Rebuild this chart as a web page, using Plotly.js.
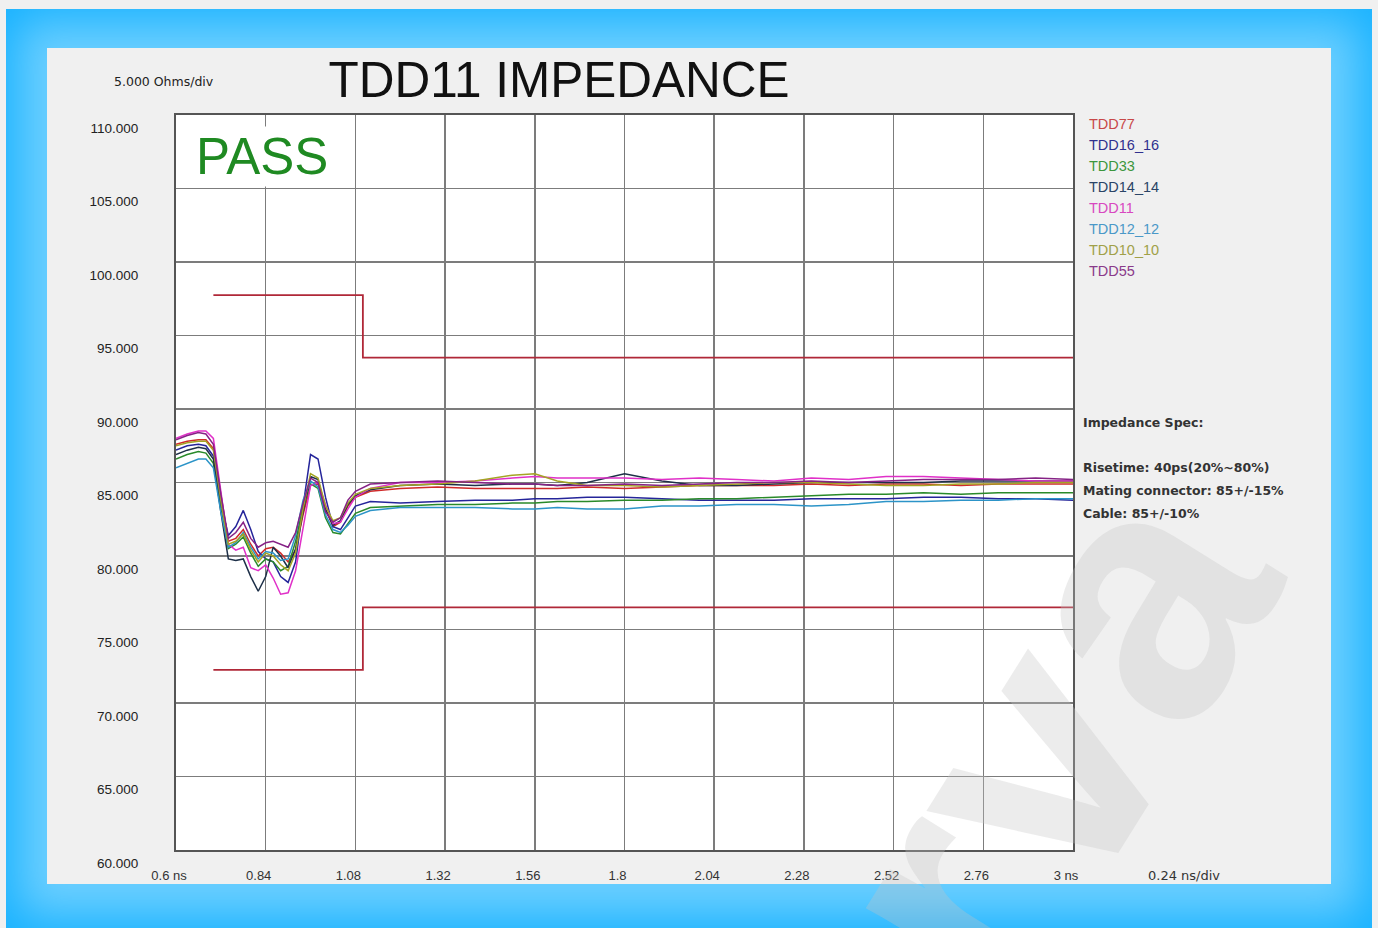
<!DOCTYPE html>
<html>
<head>
<meta charset="utf-8">
<script src="https://cdn.plot.ly/plotly-3.0.1.min.js"></script>
<style>
  html, body { margin: 0; padding: 0; background: #f0f0f0; width: 1378px; height: 928px; overflow: hidden; }
  #frame { position: absolute; left: 6px; top: 9px; width: 1366px; height: 919px;
           background: #6ccfff; box-shadow: inset 0 0 45px 12px #18b2ff; }
  #panel { position: absolute; left: 47px; top: 48px; width: 1284px; height: 836px; background: #f0f0f0; }
  #chart { position: absolute; left: 0; top: 0; width: 1378px; height: 928px; }
</style>
</head>
<body>
<div id="frame"></div>
<div id="panel"></div>
<div id="chart"></div>
<script>
// ---- Data ----
const timeNs = [0.60, 0.63, 0.66, 0.68, 0.70, 0.72, 0.74, 0.76, 0.78, 0.80, 0.82, 0.84, 0.86, 0.88, 0.90,
                0.92, 0.94, 0.96, 0.98, 1.00, 1.02, 1.04, 1.06, 1.08, 1.12, 1.20, 1.30, 1.40, 1.50, 1.56,
                1.62, 1.70, 1.80, 1.90, 2.00, 2.10, 2.20, 2.30, 2.40, 2.50, 2.60, 2.70, 2.80, 2.90, 3.00];

const seriesNames = ["TDD77", "TDD16_16", "TDD33", "TDD14_14", "TDD11", "TDD12_12", "TDD10_10", "TDD55"];

const tdd77 = [87.6, 87.8, 87.9, 87.9, 87.3, 84.0, 81.0, 81.2, 81.8, 80.8, 80.0, 80.5, 80.6, 80.2, 79.6,
               80.4, 82.8, 84.8, 84.9, 83.2, 82.0, 82.3, 83.4, 84.0, 84.4, 84.6, 84.7, 84.6, 84.6, 84.6,
               84.6, 84.7, 84.6, 84.7, 84.8, 84.8, 84.8, 84.9, 84.8, 84.9, 84.9, 84.8, 84.9, 84.9, 84.9];
const tdd16_16 = [87.2, 87.5, 87.6, 87.5, 86.8, 83.6, 81.4, 82.0, 83.1, 81.8, 80.3, 79.8, 79.6, 78.6, 78.2,
                  79.6, 83.4, 86.9, 86.6, 84.0, 82.0, 81.8, 82.6, 83.4, 83.7, 83.6, 83.7, 83.8, 83.8, 83.9,
                  83.9, 84.0, 84.0, 83.9, 83.8, 83.8, 83.8, 83.9, 83.9, 83.9, 84.0, 84.0, 83.9, 83.9, 83.8];
const tdd33 = [86.6, 86.9, 87.1, 87.0, 86.3, 83.2, 80.5, 80.8, 81.3, 80.2, 79.3, 79.8, 79.6, 79.0, 79.3,
               81.0, 83.4, 84.9, 84.6, 82.6, 81.6, 81.5, 82.2, 82.9, 83.3, 83.4, 83.5, 83.5, 83.6, 83.6,
               83.7, 83.7, 83.8, 83.8, 83.9, 83.9, 84.0, 84.1, 84.2, 84.2, 84.3, 84.2, 84.3, 84.3, 84.3];
const tdd14_14 = [86.9, 87.2, 87.4, 87.3, 86.6, 83.0, 79.8, 79.7, 79.8, 78.6, 77.6, 78.6, 80.6, 80.0, 79.2,
                  80.5, 83.0, 85.4, 85.2, 83.2, 82.1, 82.4, 83.5, 84.1, 84.5, 84.8, 84.9, 84.8, 84.9, 84.9,
                  84.8, 85.0, 85.6, 85.1, 84.8, 84.8, 84.9, 85.0, 85.0, 85.0, 85.0, 85.1, 85.1, 85.1, 85.1];
const tdd11 = [88.0, 88.3, 88.5, 88.5, 88.0, 84.5, 80.8, 80.4, 80.6, 79.2, 79.0, 79.4, 78.5, 77.4, 77.5,
               79.0, 82.0, 84.8, 85.0, 83.5, 82.2, 82.3, 83.2, 84.0, 84.6, 85.0, 85.0, 85.1, 85.3, 85.4,
               85.3, 85.3, 85.3, 85.2, 85.3, 85.2, 85.1, 85.3, 85.2, 85.4, 85.4, 85.3, 85.2, 85.1, 85.1];
const tdd12_12 = [86.0, 86.3, 86.6, 86.6, 86.0, 83.0, 80.6, 80.9, 81.6, 80.6, 79.8, 80.3, 80.2, 79.7, 79.8,
                  81.4, 83.8, 85.1, 84.7, 82.8, 81.8, 81.6, 82.1, 82.7, 83.1, 83.3, 83.3, 83.3, 83.2, 83.2,
                  83.3, 83.2, 83.2, 83.4, 83.4, 83.5, 83.5, 83.4, 83.5, 83.7, 83.7, 83.8, 83.8, 83.9, 83.9];
const tdd10_10 = [87.5, 87.7, 87.8, 87.8, 87.2, 83.8, 80.8, 81.0, 81.5, 80.4, 79.6, 80.2, 80.0, 79.4, 79.0,
                  80.2, 83.2, 85.6, 85.3, 83.4, 82.4, 82.6, 83.6, 84.2, 84.6, 84.8, 84.9, 85.1, 85.5, 85.6,
                  85.1, 84.8, 84.8, 84.7, 84.8, 84.9, 85.0, 85.0, 84.9, 84.8, 84.8, 84.9, 84.9, 85.0, 85.0];
const tdd55 = [87.9, 88.2, 88.4, 88.3, 87.6, 84.2, 81.2, 81.6, 82.3, 81.2, 80.6, 80.9, 81.0, 80.8, 80.6,
               81.6, 83.6, 85.3, 85.0, 83.0, 82.3, 82.6, 83.8, 84.4, 84.9, 85.0, 85.1, 85.0, 84.9, 84.9,
               84.8, 84.8, 84.9, 84.8, 84.9, 85.0, 85.0, 85.1, 85.0, 85.1, 85.2, 85.2, 85.2, 85.3, 85.2];

// Spec limit lines (connector 85 +/-15% then cable 85 +/-10%)
const specX = [0.70, 1.10, 1.10, 3.00];
const specUpper = [97.75, 97.75, 93.5, 93.5];
const specLower = [72.25, 72.25, 76.5, 76.5];

// Axis ticks
const xTickVals = [0.6, 0.84, 1.08, 1.32, 1.56, 1.8, 2.04, 2.28, 2.52, 2.76, 3.0];
const xTickText = ["0.6 ns", "0.84", "1.08", "1.32", "1.56", "1.8", "2.04", "2.28", "2.52", "2.76", "3 ns"];
const yTickVals = [60, 65, 70, 75, 80, 85, 90, 95, 100, 105, 110];
const yTickText = ["60.000", "65.000", "70.000", "75.000", "80.000", "85.000", "90.000", "95.000", "100.000", "105.000", "110.000"];

const specLines = ["Impedance Spec:", "", "Risetime: 40ps(20%~80%)", "Mating connector: 85+/-15%", "Cable: 85+/-10%"];

// ---- Styling ----
const seriesData = [tdd77, tdd16_16, tdd33, tdd14_14, tdd11, tdd12_12, tdd10_10, tdd55];
const lineColors = ["#d02a2a", "#25259a", "#2a8a2a", "#1e3048", "#e030c8", "#2c94c8", "#a4a424", "#862286"];
const legendColors = ["#c84848", "#30308e", "#3c963c", "#2a4466", "#d848c0", "#4a98c8", "#a0a048", "#8a3a8a"];

const traces = seriesData.map((ys, i) => ({
  type: "scatter", mode: "lines", name: seriesNames[i],
  x: timeNs, y: ys,
  line: { color: lineColors[i], width: 1.5 },
  hoverinfo: "skip"
}));
traces.unshift(
  { type: "scatter", mode: "lines", x: specX, y: specUpper, line: { color: "#b02838", width: 1.8 }, showlegend: false, hoverinfo: "skip" },
  { type: "scatter", mode: "lines", x: specX, y: specLower, line: { color: "#b02838", width: 1.8 }, showlegend: false, hoverinfo: "skip" }
);

const L = 176, R = 1073, T = 115, B = 850;
const px2x = p => (p - L) / (R - L);
const py2y = p => (B - p) / (B - T);

const annotations = [];
// watermark (drawn first, behind other annotations)
annotations.push({ text: "<b>arva</b>", xref: "paper", yref: "paper", x: px2x(995), y: py2y(820),
  xanchor: "center", yanchor: "middle", showarrow: false, textangle: -58,
  font: { family: "Liberation Sans, Arial", size: 350, color: "rgba(195,195,195,0.32)" } });
annotations.push({ text: "5.000 Ohms/div", xref: "paper", yref: "paper", x: px2x(112), y: py2y(81),
  xanchor: "left", yanchor: "middle", showarrow: false, font: { family: "DejaVu Sans, Verdana", size: 12.5, color: "#222" } });
annotations.push({ text: "PASS", xref: "paper", yref: "paper", x: px2x(194), y: py2y(156),
  xanchor: "left", yanchor: "middle", showarrow: false, bgcolor: "#ffffff",
  font: { family: "Liberation Sans, Arial", size: 51, color: "#1f8a22" } });
seriesNames.forEach((n, i) => {
  annotations.push({ text: n, xref: "paper", yref: "paper", x: px2x(1087), y: py2y(124 + 21 * i),
    xanchor: "left", yanchor: "middle", showarrow: false,
    font: { family: "Liberation Sans, Arial", size: 14.5, color: legendColors[i] } });
});
const specY = [422, 444, 467, 490, 513];
specLines.forEach((s, i) => {
  if (!s) return;
  annotations.push({ text: "<b>" + s + "</b>", xref: "paper", yref: "paper", x: px2x(1081), y: py2y(specY[i]),
    xanchor: "left", yanchor: "middle", showarrow: false,
    font: { family: "DejaVu Sans, Verdana", size: 12.5, color: "#333" } });
});
annotations.push({ text: "0.24 ns/div", xref: "paper", yref: "paper", x: px2x(1184), y: py2y(875),
  xanchor: "center", yanchor: "middle", showarrow: false, font: { family: "DejaVu Sans, Verdana", size: 13, color: "#333" } });

const layout = {
  width: 1378, height: 928,
  margin: { l: L, r: 1378 - R, t: T, b: 928 - B, pad: 0 },
  paper_bgcolor: "rgba(0,0,0,0)",
  plot_bgcolor: "#ffffff",
  showlegend: false,
  title: { text: "TDD11 IMPEDANCE", x: px2x(559), xref: "paper", xanchor: "center",
           y: 1 - 80 / 928, yref: "container", yanchor: "middle",
           font: { family: "Liberation Sans, Arial", size: 49.5, color: "#111" } },
  xaxis: {
    range: [0.6, 3.0], tickvals: xTickVals, ticktext: xTickText, ticks: "",
    showgrid: true, gridcolor: "#7c7c7c", gridwidth: 1.5, zeroline: false,
    showline: true, linecolor: "#555", linewidth: 2, mirror: true,
    ticklabelstandoff: 12, ticklabelshift: -7,
    tickfont: { family: "Liberation Sans, Arial", size: 13, color: "#333" }, fixedrange: true
  },
  yaxis: {
    range: [60, 110], tickvals: yTickVals, ticktext: yTickText, ticks: "",
    showgrid: true, gridcolor: "#7c7c7c", gridwidth: 1.5, zeroline: false,
    showline: true, linecolor: "#555", linewidth: 2, mirror: true,
    ticklabelstandoff: 33, ticklabelshift: 13,
    tickfont: { family: "Liberation Sans, Arial", size: 13.5, color: "#222" }, fixedrange: true
  },
  annotations: annotations
};

Plotly.newPlot("chart", traces, layout, { displayModeBar: false, staticPlot: true });
</script>
</body>
</html>
